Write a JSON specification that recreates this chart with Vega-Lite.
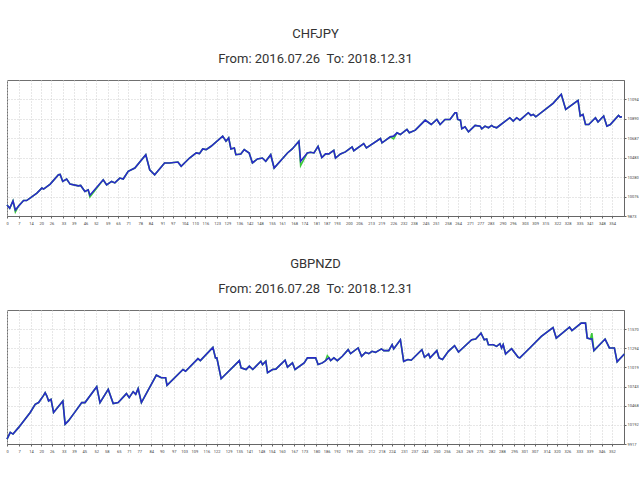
{
  "$schema": "https://vega.github.io/schema/vega-lite/v6.json",
  "background": "white",
  "padding": {"left": 3, "top": 27, "right": 0, "bottom": 0},
  "spacing": 31,
  "config": {
    "view": {"stroke": "#707070", "strokeWidth": 1},
    "title": {"font": "Roboto", "fontSize": 13, "fontWeight": "normal", "color": "#333333", "lineHeight": 25, "offset": 14},
    "axis": {
      "labelFont": "Roboto", "labelFontSize": 4, "labelColor": "#444444",
      "title": null, "grid": true, "gridColor": "#cfcfcf", "gridDash": [1, 2], "labelOverlap": false, "labelBound": false, "labelFlush": false,
      "tickSize": 2, "tickColor": "#666666", "domainColor": "#666666", "labelPadding": 1
    },
    "axisX": {"labelOverlap": false, "labelAngle": 0, "labelPadding": 3},
    "axisY": {"labelOverlap": false, "orient": "right", "format": "d"},
    "text": {"font": "Roboto", "fontSize": 3.3, "align": "left", "baseline": "top", "dy": 3}
  },
  "datasets": {
    "chf": [
      {"t": 0, "b": 9989, "e": 9989}, {"t": 1.6, "b": 9954, "e": 9954}, {"t": 3.5, "b": 10031, "e": 10031},
      {"t": 4.9, "b": 9936, "e": 9915}, {"t": 6.8, "b": 9978, "e": 9978}, {"t": 9.7, "b": 10035, "e": 10035},
      {"t": 11.5, "b": 10035, "e": 10035}, {"t": 17.5, "b": 10112, "e": 10112}, {"t": 20.4, "b": 10165, "e": 10165},
      {"t": 21.4, "b": 10155, "e": 10155}, {"t": 25.3, "b": 10207, "e": 10207}, {"t": 30.1, "b": 10305, "e": 10305},
      {"t": 31.1, "b": 10309, "e": 10309}, {"t": 32.6, "b": 10235, "e": 10235}, {"t": 34.9, "b": 10259, "e": 10259},
      {"t": 36.9, "b": 10207, "e": 10207}, {"t": 41.7, "b": 10189, "e": 10189}, {"t": 43.1, "b": 10193, "e": 10193},
      {"t": 45.6, "b": 10130, "e": 10130}, {"t": 47.5, "b": 10147, "e": 10147}, {"t": 48.5, "b": 10091, "e": 10072},
      {"t": 56.3, "b": 10252, "e": 10252}, {"t": 58.3, "b": 10199, "e": 10199}, {"t": 61.2, "b": 10235, "e": 10235},
      {"t": 63.1, "b": 10220, "e": 10220}, {"t": 66.0, "b": 10270, "e": 10270}, {"t": 68.0, "b": 10260, "e": 10260},
      {"t": 70.9, "b": 10340, "e": 10340}, {"t": 74.8, "b": 10375, "e": 10375}, {"t": 81.2, "b": 10515, "e": 10515},
      {"t": 83.5, "b": 10357, "e": 10357}, {"t": 86.4, "b": 10305, "e": 10305}, {"t": 92.2, "b": 10428, "e": 10428},
      {"t": 95.1, "b": 10428, "e": 10428}, {"t": 100, "b": 10438, "e": 10438}, {"t": 101.9, "b": 10393, "e": 10393},
      {"t": 106.8, "b": 10480, "e": 10480}, {"t": 110.7, "b": 10533, "e": 10533}, {"t": 112.6, "b": 10526, "e": 10526},
      {"t": 114.5, "b": 10575, "e": 10575}, {"t": 116.5, "b": 10568, "e": 10568}, {"t": 119.4, "b": 10603, "e": 10603},
      {"t": 126.2, "b": 10709, "e": 10709}, {"t": 128.1, "b": 10656, "e": 10656}, {"t": 129.7, "b": 10691, "e": 10691},
      {"t": 131.0, "b": 10575, "e": 10575}, {"t": 133.0, "b": 10586, "e": 10586}, {"t": 133.9, "b": 10515, "e": 10515},
      {"t": 136.8, "b": 10522, "e": 10522}, {"t": 138.8, "b": 10568, "e": 10568}, {"t": 141.7, "b": 10533, "e": 10533},
      {"t": 143.6, "b": 10428, "e": 10428}, {"t": 146.5, "b": 10470, "e": 10470}, {"t": 149.4, "b": 10480, "e": 10480},
      {"t": 151.4, "b": 10446, "e": 10446}, {"t": 154.3, "b": 10515, "e": 10515}, {"t": 156.3, "b": 10375, "e": 10375},
      {"t": 164.1, "b": 10533, "e": 10533}, {"t": 166.9, "b": 10575, "e": 10575}, {"t": 170.8, "b": 10656, "e": 10656},
      {"t": 171.8, "b": 10446, "e": 10400}, {"t": 175.7, "b": 10533, "e": 10533}, {"t": 177.6, "b": 10540, "e": 10540},
      {"t": 179.6, "b": 10533, "e": 10533}, {"t": 182, "b": 10603, "e": 10603}, {"t": 184.2, "b": 10484, "e": 10484},
      {"t": 186.4, "b": 10523, "e": 10523}, {"t": 188.3, "b": 10523, "e": 10523}, {"t": 191.2, "b": 10561, "e": 10561},
      {"t": 192.2, "b": 10480, "e": 10480}, {"t": 195.1, "b": 10523, "e": 10523}, {"t": 198, "b": 10544, "e": 10544},
      {"t": 201.9, "b": 10596, "e": 10596}, {"t": 202.9, "b": 10557, "e": 10557}, {"t": 208.7, "b": 10631, "e": 10631},
      {"t": 210.3, "b": 10586, "e": 10586}, {"t": 218.5, "b": 10684, "e": 10684}, {"t": 219.4, "b": 10639, "e": 10639},
      {"t": 224.3, "b": 10702, "e": 10702}, {"t": 226.2, "b": 10709, "e": 10680}, {"t": 228.2, "b": 10744, "e": 10744},
      {"t": 230.1, "b": 10726, "e": 10726}, {"t": 234.0, "b": 10779, "e": 10779}, {"t": 235.4, "b": 10744, "e": 10744},
      {"t": 238.9, "b": 10772, "e": 10772}, {"t": 244.7, "b": 10877, "e": 10877}, {"t": 248.2, "b": 10831, "e": 10831},
      {"t": 251.5, "b": 10884, "e": 10884}, {"t": 253.4, "b": 10831, "e": 10831}, {"t": 256.3, "b": 10884, "e": 10884},
      {"t": 259.2, "b": 10884, "e": 10884}, {"t": 262.1, "b": 10954, "e": 10954}, {"t": 263.0, "b": 10954, "e": 10954},
      {"t": 263.7, "b": 10884, "e": 10884}, {"t": 265.3, "b": 10877, "e": 10877}, {"t": 266.1, "b": 10786, "e": 10786},
      {"t": 268.0, "b": 10807, "e": 10807}, {"t": 270.0, "b": 10754, "e": 10754}, {"t": 273.9, "b": 10821, "e": 10821},
      {"t": 276.8, "b": 10814, "e": 10814}, {"t": 277.8, "b": 10786, "e": 10786}, {"t": 279.7, "b": 10814, "e": 10814},
      {"t": 281.7, "b": 10797, "e": 10797}, {"t": 283.6, "b": 10821, "e": 10821}, {"t": 284.6, "b": 10807, "e": 10807},
      {"t": 286.5, "b": 10797, "e": 10797}, {"t": 294.2, "b": 10902, "e": 10902}, {"t": 296.2, "b": 10867, "e": 10867},
      {"t": 298.2, "b": 10902, "e": 10902}, {"t": 300.1, "b": 10877, "e": 10877}, {"t": 305.0, "b": 10954, "e": 10954},
      {"t": 306.6, "b": 10926, "e": 10926}, {"t": 307.9, "b": 10937, "e": 10937}, {"t": 309.4, "b": 10912, "e": 10912},
      {"t": 319.5, "b": 11052, "e": 11052}, {"t": 324.3, "b": 11147, "e": 11147}, {"t": 326.9, "b": 10989, "e": 10989},
      {"t": 334.1, "b": 11084, "e": 11084}, {"t": 335.4, "b": 10920, "e": 10920}, {"t": 337.0, "b": 10937, "e": 10937},
      {"t": 338.5, "b": 10831, "e": 10831}, {"t": 340.4, "b": 10831, "e": 10831}, {"t": 344.3, "b": 10902, "e": 10902},
      {"t": 345.8, "b": 10857, "e": 10857}, {"t": 349.1, "b": 10920, "e": 10920}, {"t": 351.0, "b": 10814, "e": 10814},
      {"t": 353.0, "b": 10831, "e": 10831}, {"t": 357.8, "b": 10926, "e": 10926}, {"t": 358.8, "b": 10909, "e": 10909},
      {"t": 359.8, "b": 10912, "e": 10912}
    ],
    "gbp": [
      {"t": 0, "b": 9988, "e": 9988}, {"t": 1.9, "b": 10084, "e": 10084}, {"t": 3.5, "b": 10060, "e": 10060},
      {"t": 6.8, "b": 10156, "e": 10156}, {"t": 13.5, "b": 10370, "e": 10370}, {"t": 16.4, "b": 10489, "e": 10489},
      {"t": 18.4, "b": 10513, "e": 10513}, {"t": 21.3, "b": 10617, "e": 10617}, {"t": 22.2, "b": 10656, "e": 10656},
      {"t": 23.2, "b": 10607, "e": 10607}, {"t": 24.2, "b": 10536, "e": 10536}, {"t": 25.6, "b": 10560, "e": 10560},
      {"t": 27.1, "b": 10370, "e": 10370}, {"t": 32.5, "b": 10536, "e": 10536}, {"t": 33.8, "b": 10203, "e": 10203},
      {"t": 35.7, "b": 10250, "e": 10250}, {"t": 39.6, "b": 10379, "e": 10379}, {"t": 43.5, "b": 10513, "e": 10513},
      {"t": 45.4, "b": 10513, "e": 10513}, {"t": 52.2, "b": 10742, "e": 10742}, {"t": 54.1, "b": 10513, "e": 10513},
      {"t": 58.9, "b": 10703, "e": 10703}, {"t": 61.8, "b": 10499, "e": 10499}, {"t": 64.7, "b": 10513, "e": 10513},
      {"t": 69.5, "b": 10642, "e": 10642}, {"t": 71.1, "b": 10584, "e": 10584}, {"t": 73.4, "b": 10670, "e": 10670},
      {"t": 74.9, "b": 10632, "e": 10632}, {"t": 76.3, "b": 10713, "e": 10713}, {"t": 78.2, "b": 10513, "e": 10513},
      {"t": 86.9, "b": 10907, "e": 10907}, {"t": 89.8, "b": 10870, "e": 10870}, {"t": 92.3, "b": 10870, "e": 10870},
      {"t": 93.1, "b": 10760, "e": 10760}, {"t": 102.4, "b": 10989, "e": 10989}, {"t": 103.9, "b": 10964, "e": 10964},
      {"t": 111.1, "b": 11146, "e": 11146}, {"t": 112.5, "b": 11117, "e": 11117}, {"t": 119.8, "b": 11307, "e": 11307},
      {"t": 121.3, "b": 11156, "e": 11156}, {"t": 122.1, "b": 11156, "e": 11156}, {"t": 124.6, "b": 10856, "e": 10856},
      {"t": 135.2, "b": 11117, "e": 11117}, {"t": 136.2, "b": 11013, "e": 11013}, {"t": 139.1, "b": 10989, "e": 10989},
      {"t": 141.0, "b": 11036, "e": 11036}, {"t": 143.0, "b": 10989, "e": 10989}, {"t": 147.7, "b": 11107, "e": 11107},
      {"t": 148.7, "b": 11060, "e": 11060}, {"t": 150.6, "b": 11107, "e": 11107}, {"t": 151.6, "b": 10942, "e": 10942},
      {"t": 154.5, "b": 10989, "e": 10989}, {"t": 156.4, "b": 10994, "e": 10994}, {"t": 161.8, "b": 11122, "e": 11122},
      {"t": 163.2, "b": 11022, "e": 11022}, {"t": 166.1, "b": 11084, "e": 11084}, {"t": 167.6, "b": 10989, "e": 10989},
      {"t": 172.9, "b": 11084, "e": 11084}, {"t": 174.8, "b": 11156, "e": 11156}, {"t": 179.6, "b": 11156, "e": 11156},
      {"t": 181.0, "b": 11060, "e": 11060}, {"t": 183.5, "b": 11084, "e": 11084}, {"t": 185.4, "b": 11117, "e": 11117},
      {"t": 186.4, "b": 11140, "e": 11189}, {"t": 187.4, "b": 11156, "e": 11156}, {"t": 188.3, "b": 11117, "e": 11117},
      {"t": 190.2, "b": 11156, "e": 11156}, {"t": 192.2, "b": 11117, "e": 11117}, {"t": 195.1, "b": 11179, "e": 11179},
      {"t": 198.5, "b": 11275, "e": 11275}, {"t": 199.9, "b": 11217, "e": 11217}, {"t": 204.3, "b": 11299, "e": 11299},
      {"t": 206.3, "b": 11179, "e": 11179}, {"t": 208.6, "b": 11236, "e": 11236}, {"t": 210.5, "b": 11217, "e": 11217},
      {"t": 212.4, "b": 11250, "e": 11250}, {"t": 214.4, "b": 11236, "e": 11236}, {"t": 217.9, "b": 11285, "e": 11285},
      {"t": 219.2, "b": 11260, "e": 11260}, {"t": 222.1, "b": 11260, "e": 11260}, {"t": 224.1, "b": 11346, "e": 11346},
      {"t": 225.0, "b": 11285, "e": 11285}, {"t": 228.9, "b": 11417, "e": 11417}, {"t": 230.8, "b": 11107, "e": 11107},
      {"t": 233.3, "b": 11132, "e": 11132}, {"t": 235.2, "b": 11122, "e": 11122}, {"t": 241.4, "b": 11275, "e": 11275},
      {"t": 242.9, "b": 11165, "e": 11165}, {"t": 245.3, "b": 11213, "e": 11213}, {"t": 246.2, "b": 11156, "e": 11156},
      {"t": 250.1, "b": 11260, "e": 11260}, {"t": 251.4, "b": 11156, "e": 11156}, {"t": 253.4, "b": 11132, "e": 11132},
      {"t": 256.8, "b": 11250, "e": 11250}, {"t": 260.4, "b": 11332, "e": 11332}, {"t": 262.7, "b": 11241, "e": 11241},
      {"t": 270.4, "b": 11417, "e": 11417}, {"t": 272.7, "b": 11427, "e": 11427}, {"t": 275.8, "b": 11513, "e": 11513},
      {"t": 277.7, "b": 11417, "e": 11417}, {"t": 279.1, "b": 11427, "e": 11427}, {"t": 280.1, "b": 11346, "e": 11346},
      {"t": 283.0, "b": 11346, "e": 11346}, {"t": 284.9, "b": 11322, "e": 11322}, {"t": 286.8, "b": 11360, "e": 11360},
      {"t": 287.8, "b": 11299, "e": 11299}, {"t": 288.7, "b": 11346, "e": 11346}, {"t": 290.1, "b": 11213, "e": 11213},
      {"t": 293.6, "b": 11289, "e": 11289}, {"t": 297.4, "b": 11165, "e": 11165}, {"t": 298.4, "b": 11156, "e": 11156},
      {"t": 304.2, "b": 11299, "e": 11299}, {"t": 310.9, "b": 11465, "e": 11465}, {"t": 317.7, "b": 11593, "e": 11593},
      {"t": 319.6, "b": 11441, "e": 11441}, {"t": 327.3, "b": 11599, "e": 11599}, {"t": 328.7, "b": 11550, "e": 11550},
      {"t": 334.1, "b": 11656, "e": 11656}, {"t": 336.6, "b": 11656, "e": 11656}, {"t": 337.6, "b": 11441, "e": 11441},
      {"t": 339.5, "b": 11427, "e": 11427}, {"t": 340.3, "b": 11430, "e": 11513}, {"t": 341.5, "b": 11260, "e": 11260},
      {"t": 348.0, "b": 11427, "e": 11427}, {"t": 350.5, "b": 11299, "e": 11299}, {"t": 353.4, "b": 11299, "e": 11299},
      {"t": 355.0, "b": 11099, "e": 11099}, {"t": 359.2, "b": 11213, "e": 11213}
    ]
  },
  "vconcat": [
    {
      "title": {"text": ["CHFJPY", "From: 2016.07.26 \u00a0To: 2018.12.31"]},
      "width": 617,
      "height": 136,
      "data": {"name": "chf"},
      "encoding": {
        "x": {"field": "t", "type": "quantitative", "scale": {"domain": [0, 361], "nice": false, "zero": false},
          "axis": {"values": [0,7,14,20,26,33,39,46,52,59,65,71,78,84,91,97,104,110,116,123,129,136,142,148,155,161,168,174,181,187,193,200,206,213,219,226,232,238,245,251,258,264,271,277,283,290,296,303,309,315,322,328,335,341,348,354], "labelOverlap": false}},
        "y": {"field": "b", "type": "quantitative", "scale": {"domain": [9873, 11297], "nice": false, "zero": false},
          "axis": {"values": [9873, 10076, 10280, 10483, 10687, 10890, 11094], "labelOverlap": false}}
      },
      "layer": [
        {
          "mark": {"type": "line", "color": "#3cc83c", "strokeWidth": 1.6},
          "encoding": {
            "y": {"field": "e", "type": "quantitative", "scale": {"domain": [9873, 11297], "nice": false, "zero": false},
              "axis": {"values": [9873, 10076, 10280, 10483, 10687, 10890, 11094], "labelOverlap": false}}
          }
        },
        {
          "mark": {"type": "line", "color": "#2a2ac8", "strokeWidth": 1.6}
        },
        {
          "data": {"values": [{}]},
          "mark": {"type": "text", "text": "Balance /", "color": "#3030d0", "dx": 1},
          "encoding": {"x": {"datum": 0}, "y": {"datum": 11297}}
        },
        {
          "data": {"values": [{}]},
          "mark": {"type": "text", "text": "Equity", "color": "#30b030", "dx": 14.3},
          "encoding": {"x": {"datum": 0}, "y": {"datum": 11297}}
        },
        {
          "data": {"values": [{}]},
          "mark": {"type": "text", "text": "/ Open prices only (fastest method to analyze the bar just completed, only for EAs that explicitly control bar opening)", "color": "#ff2020", "dx": 24.7},
          "encoding": {"x": {"datum": 0}, "y": {"datum": 11297}}
        }
      ]
    },
    {
      "title": {"text": ["GBPNZD", "From: 2016.07.28 \u00a0To: 2018.12.31"]},
      "width": 617,
      "height": 134,
      "data": {"name": "gbp"},
      "encoding": {
        "x": {"field": "t", "type": "quantitative", "scale": {"domain": [0, 359], "nice": false, "zero": false},
          "axis": {"values": [0,7,14,20,26,33,39,45,52,58,65,71,77,84,90,97,103,109,116,122,129,135,141,148,154,160,167,173,180,186,192,199,205,212,218,224,231,237,243,250,256,263,269,275,282,288,295,301,307,314,320,326,333,339,346,352], "labelOverlap": false}},
        "y": {"field": "b", "type": "quantitative", "scale": {"domain": [9917, 11845], "nice": false, "zero": false},
          "axis": {"values": [9917, 10192, 10468, 10743, 11019, 11294, 11570], "labelOverlap": false}}
      },
      "layer": [
        {
          "mark": {"type": "line", "color": "#3cc83c", "strokeWidth": 1.6},
          "encoding": {
            "y": {"field": "e", "type": "quantitative", "scale": {"domain": [9917, 11845], "nice": false, "zero": false},
              "axis": {"values": [9917, 10192, 10468, 10743, 11019, 11294, 11570], "labelOverlap": false}}
          }
        },
        {
          "mark": {"type": "line", "color": "#2a2ac8", "strokeWidth": 1.6}
        },
        {
          "data": {"values": [{}]},
          "mark": {"type": "text", "text": "Balance /", "color": "#3030d0", "dx": 1},
          "encoding": {"x": {"datum": 0}, "y": {"datum": 11845}}
        },
        {
          "data": {"values": [{}]},
          "mark": {"type": "text", "text": "Equity", "color": "#30b030", "dx": 14.3},
          "encoding": {"x": {"datum": 0}, "y": {"datum": 11845}}
        },
        {
          "data": {"values": [{}]},
          "mark": {"type": "text", "text": "/ Open prices only (fastest method to analyze the bar just completed, only for EAs that explicitly control bar opening)", "color": "#ff2020", "dx": 24.7},
          "encoding": {"x": {"datum": 0}, "y": {"datum": 11845}}
        }
      ]
    }
  ]
}
